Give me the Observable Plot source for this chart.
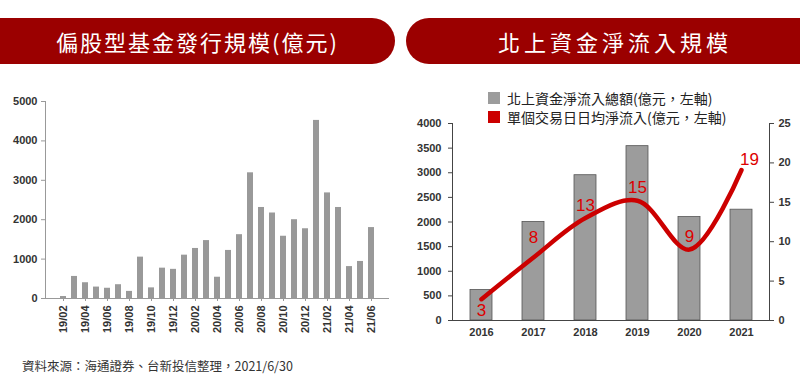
<!DOCTYPE html>
<html><head><meta charset="utf-8">
<script src="https://cdn.jsdelivr.net/npm/d3@7"></script>
<script src="https://cdn.jsdelivr.net/npm/@observablehq/plot@0.6"></script>
<style>
body{margin:0;background:#fff;}
#root{position:relative;width:800px;height:390px;overflow:hidden;font-family:"Noto Sans CJK TC","Noto Sans",sans-serif;}
.banner{position:absolute;top:18px;height:46px;background:#9b0000;color:#fff;font-size:22px;display:flex;align-items:center;justify-content:center;letter-spacing:2px;box-sizing:border-box;}
#b1{left:0;width:395px;border-radius:0 23px 23px 0;}
#b2{left:406px;width:394px;border-radius:23px 0 0 23px;padding-left:24px;letter-spacing:4px;}
#left{position:absolute;left:0;top:80px;}
#right{position:absolute;left:400px;top:115px;}
.leg{position:absolute;left:488px;font-size:14px;line-height:18px;color:#222;display:flex;align-items:center;}
.leg span.sw{display:inline-block;width:12px;height:12px;margin-right:7px;}
#src{position:absolute;left:22px;top:356px;font-size:12.5px;color:#333;}
</style>
</head><body>
<div id="root">
  <div class="banner" id="b1">偏股型基金發行規模(億元)</div>
  <div class="banner" id="b2">北上資金淨流入規模</div>
  <div id="left"></div>
  <div id="right"></div>
  <div class="leg" id="leg1" style="top:89px"><span class="sw" style="background:#9c9c9c"></span><span id="lt1"></span></div>
  <div class="leg" id="leg2" style="top:108px"><span class="sw" style="background:#cc0000"></span><span id="lt2"></span></div>
  <div id="src"></div>
</div>
<script>
// ---- Left chart data ----
const months = ["19/02","19/03","19/04","19/05","19/06","19/07","19/08","19/09","19/10","19/11","19/12",
  "20/01","20/02","20/03","20/04","20/05","20/06","20/07","20/08","20/09","20/10","20/11","20/12",
  "21/01","21/02","21/03","21/04","21/05","21/06"];
const issuance = [50,560,400,290,260,350,180,1050,270,770,740,
  1100,1270,1470,540,1220,1620,3190,2310,2170,1580,2000,1770,
  4520,2680,2310,810,940,1800];
const leftTicks = [0,1000,2000,3000,4000,5000];

// ---- Right chart data ----
const years = ["2016","2017","2018","2019","2020","2021"];
const netInflow = [620,2000,2950,3540,2100,2250];
const dailyAvg = [2.7,8,13,15.2,9,19.1];
const dailyLabels = ["3","8","13","15","9","19"];
const leftAxisTicks = [0,500,1000,1500,2000,2500,3000,3500,4000];
const rightAxisTicks = [0,5,10,15,20,25];
const legendLabels = ["北上資金淨流入總額(億元，左軸)","單個交易日日均淨流入(億元，左軸)"];
const source = "資料來源：海通證券、台新投信整理，2021/6/30";

document.getElementById("lt1").textContent = legendLabels[0];
document.getElementById("lt2").textContent = legendLabels[1];
document.getElementById("src").textContent = source;

const axisFont = {fontFamily:"'Liberation Sans', Arial, sans-serif", fontSize:"11px", color:"#333", fontWeight:"bold", background:"transparent"};
const plain = d => String(d);

const leftData = months.map((m,i)=>({m, v: issuance[i]}));
const leftPlot = Plot.plot({
  width: 395, height: 270,
  marginTop: 21, marginBottom: 52, marginLeft: 45, marginRight: 6,
  style: axisFont,
  x: {domain: months, paddingInner: 0.45, paddingOuter: 0.3, label: null},
  y: {domain: [0,5000], label: null},
  marks: [
    Plot.barY(leftData, {x:"m", y:"v", fill:"#999"}),
    Plot.ruleY([0], {stroke:"#999"}),
    Plot.frame({anchor:"left", stroke:"#999"}),
    Plot.axisY({ticks: leftTicks, tickFormat: plain, tickSize: 4, tickPadding: 4, stroke:"#999", label: null, fill:"#333"}),
    Plot.axisX({ticks: months.filter((d,i)=>i%2===0), tickRotate: -90, tickSize: 3, tickPadding: 4, stroke:"#999", label: null, fill:"#333"})
  ]
});
document.getElementById("left").append(leftPlot);

// right chart: the daily average series uses the right axis (0-25) mapped onto 0-4000
const k = 4000/25;
const rightBars = years.map((y,i)=>({y, v: netInflow[i]}));
const rightLine = years.map((y,i)=>({y, v: dailyAvg[i]*k, label: dailyLabels[i]}));
const txt = {x:"y", y:"v", text:"label", fill:"#dd0000", fontSize:17, fontWeight:"normal", fontFamily:"'Liberation Sans', Arial, sans-serif"};
const rightPlot = Plot.plot({
  width: 400, height: 232,
  marginTop: 8, marginBottom: 27, marginLeft: 52, marginRight: 31,
  style: axisFont,
  x: {domain: years, paddingInner: 0.58, paddingOuter: 0.29, label: null},
  y: {domain: [0,4000], label: null},
  marks: [
    Plot.barY(rightBars, {x:"y", y:"v", fill:"#9c9c9c", stroke:"#555", strokeWidth:0.8}),
    Plot.line(rightLine, {x:"y", y:"v", stroke:"#cc0000", strokeWidth:4.5, curve:"catmull-rom"}),
    Plot.text(rightLine.slice(0,1), {...txt, dy: 11}),
    Plot.text(rightLine.slice(1,2), {...txt, dy: -20}),
    Plot.text(rightLine.slice(2,5), {...txt, dy: -13}),
    Plot.text(rightLine.slice(5), {...txt, dx: 8, dy: -10}),
    Plot.ruleY([0], {stroke:"#444"}),
    Plot.frame({anchor:"left", stroke:"#444"}),
    Plot.frame({anchor:"right", stroke:"#444"}),
    Plot.axisY({ticks: leftAxisTicks, tickFormat: plain, tickSize: 4, tickPadding: 7, stroke:"#444", label:null, fill:"#333"}),
    Plot.axisY({anchor:"right", ticks: rightAxisTicks.map(d=>d*k), tickFormat: d=>String(d/k), tickSize: 4, tickPadding: 5, stroke:"#444", label:null, fill:"#333"}),
    Plot.axisX({tickSize: 0, tickPadding: 8, label:null, fill:"#333"})
  ]
});
document.getElementById("right").append(rightPlot);
</script>
</body></html>
